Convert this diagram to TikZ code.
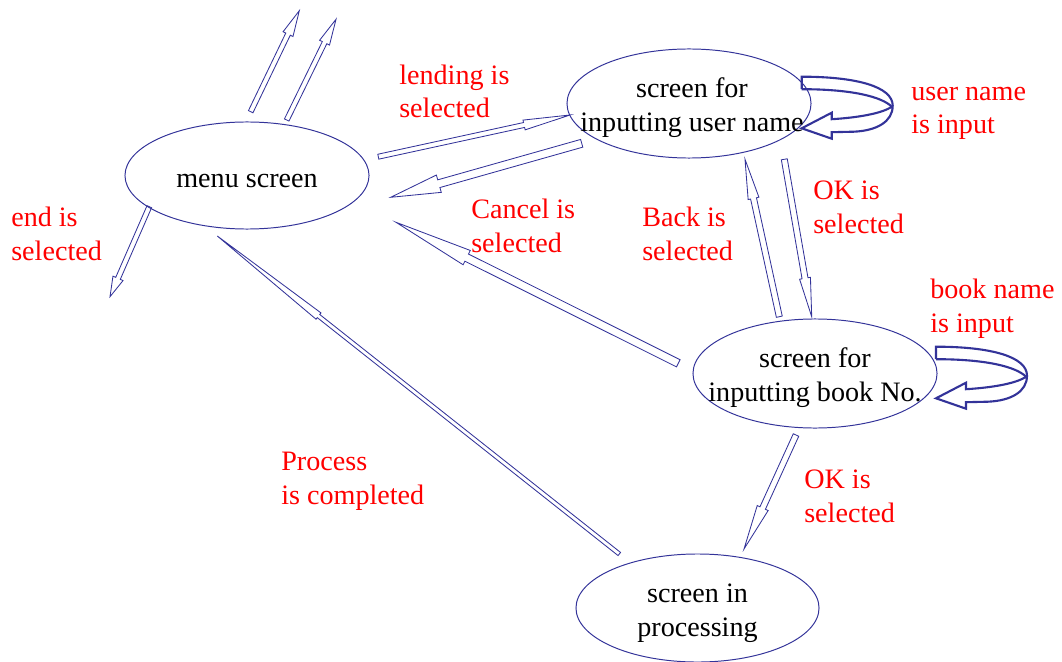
\documentclass[tikz,border=0pt]{standalone}
\usepackage{fontspec}
\setmainfont{Liberation Serif}
\usetikzlibrary{shapes.geometric,calc}
\definecolor{navy}{HTML}{333399}
\definecolor{lblred}{HTML}{FF0000}

\tikzset{
  stateshape/.style={ellipse, draw=navy, line width=0.7pt, inner sep=0pt},
  statetext/.style={font=\fontsize{20}{24}\selectfont, align=center, text=black, inner sep=0pt},
  % anchored at the baseline of the label's last line
  trlabel/.style={font=\fontsize{20}{24}\selectfont, align=left, text=lblred, inner sep=0pt, anchor=base west},
  blockline/.style={draw=navy, line width=0.6pt, line join=miter},
  loopline/.style={draw=navy, line width=1.5pt, line join=miter},
}

% outlined block arrow from #1 (tail) to #2 (tip);
% #3 shaft width, #4 head width, #5 head length, in drawing units (1 unit = 0.025cm)
\newcommand\blockarrow[5]{%
  \pgfmathsetlengthmacro\baS{#3*0.35566pt}%
  \pgfmathsetlengthmacro\baW{#4*0.35566pt}%
  \pgfmathsetlengthmacro\baL{#5*0.71132pt}%
  \coordinate (ba-h) at ($(#2)!\baL!(#1)$);
  \draw[blockline] ($(#1)!\baS!90:(#2)$) -- ($(ba-h)!\baS!90:(#2)$)
    -- ($(ba-h)!\baW!90:(#2)$) -- (#2) -- ($(ba-h)!\baW!-90:(#2)$)
    -- ($(ba-h)!\baS!-90:(#2)$) -- ($(#1)!\baS!-90:(#2)$) -- cycle;}

% twisted U-turn arrow whose tail corner sits at #1
\newcommand\uturnarrow[1]{%
  \begin{scope}[shift={(#1)}]
    \draw[loopline] (0,12.5) -- (0,0) .. controls (55,0) and (91,10) .. (91,29)
      .. controls (91,45) and (75,54) .. (52,55) -- (30,55.5) -- (30,62)
      -- (0,51.6) -- (30,36) -- (30,42.5) .. controls (55,41) and (80,37) .. (90,30);
    \draw[loopline] (0,12.5) .. controls (50,12.5) and (80,20) .. (90,30);
  \end{scope}}

\begin{document}
\begin{tikzpicture}[x=0.025cm, y=-0.025cm]
\useasboundingbox (0,0) rectangle (1062,662);

% states
\node[stateshape, minimum width=6.1cm, minimum height=2.675cm] (menu) at (247,175.5) {};
\node[stateshape, minimum width=6.1cm, minimum height=2.725cm] (user) at (689,103.5) {};
\node[stateshape, minimum width=6.1cm, minimum height=2.725cm] (book) at (815,373.5) {};
\node[stateshape, minimum width=6.075cm, minimum height=2.7cm] (proc) at (697.5,608) {};

\node[statetext] (menu-t) at ($(menu)+(0,5.5)$) {menu screen};
\node[statetext] (user-t) at ($(user)+(3,4)$) {screen for\\inputting user name};
\node[statetext] (book-t) at ($(book)+(0,4)$) {screen for\\inputting book No.};
\node[statetext] (proc-t) at ($(proc)+(0,5)$) {screen in\\processing};

% arrow ends
\coordinate (up1-a) at (250.7,111.7);  \coordinate (up1-b) at (299.3,10.7);
\coordinate (up2-a) at (286.7,120);    \coordinate (up2-b) at (336,19.3);
\coordinate (lend-a) at (378.3,156.7); \coordinate (lend-b) at (570,115);
\coordinate (can1-a) at (581.7,143.3); \coordinate (can1-b) at (390.7,197.3);
\coordinate (end-a) at (149.3,206.7);  \coordinate (end-b) at (110,296.7);
\coordinate (back-a) at (779.3,316.7); \coordinate (back-b) at (745,159.3);
\coordinate (ok1-a) at (784.3,159.3);  \coordinate (ok1-b) at (811.7,316.7);
\coordinate (can2-a) at (678.3,363.3); \coordinate (can2-b) at (396,222.3);
\coordinate (ok2-a) at (796,435);      \coordinate (ok2-b) at (744,549);
\coordinate (done-a) at (619.3,554);   \coordinate (done-b) at (217.3,236);
\coordinate (user-loop) at (801.7,76.7);
\coordinate (book-loop) at (936,346.7);

% transitions
\blockarrow{up1-a}{up1-b}{5}{11}{26}
\blockarrow{up2-a}{up2-b}{5}{11}{26}
\blockarrow{lend-a}{lend-b}{5}{10}{47}
\blockarrow{can1-a}{can1-b}{8}{18}{50}
\blockarrow{end-a}{end-b}{5}{11}{20}
\blockarrow{back-a}{back-b}{6}{11}{40}
\blockarrow{ok1-a}{ok1-b}{6}{11}{39}
\blockarrow{can2-a}{can2-b}{8}{16}{79}
\blockarrow{ok2-a}{ok2-b}{6}{12}{45}
\blockarrow{done-a}{done-b}{4}{8}{129}
\uturnarrow{user-loop}
\uturnarrow{book-loop}

% transition labels
\node[trlabel] (l-lend) at (399,118) {lending is\\selected};
\node[trlabel] (l-uin) at (911,134) {user name\\is input};
\node[trlabel] (l-end) at (11,260) {end is\\selected};
\node[trlabel] (l-can) at (471,252) {Cancel is\\selected};
\node[trlabel] (l-back) at (642,260) {Back is\\selected};
\node[trlabel] (l-ok1) at (813,233) {OK is\\selected};
\node[trlabel] (l-bin) at (930,332) {book name\\is input};
\node[trlabel] (l-done) at (281,504) {Process\\is completed};
\node[trlabel] (l-ok2) at (804,522) {OK is\\selected};
\end{tikzpicture}
\end{document}
